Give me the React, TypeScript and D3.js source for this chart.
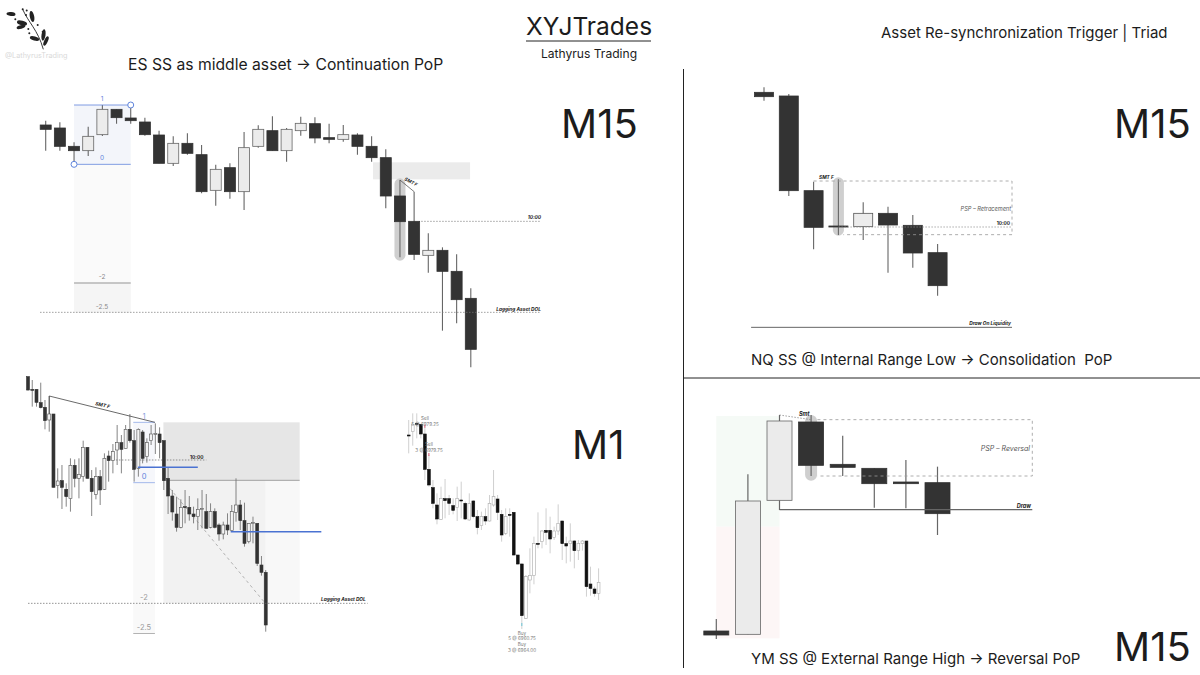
import React from "react";
import * as d3 from "d3";

type C = [number, number, number, number]; // open, high, low, close

const es15: C[] = [
  [865,878,788,852],[856,873,788,801],[801,813,747,788],[788,860,772,831],[836,925,832,912],[912,912,869,887],
  [886,925,869,878],[874,887,833,836],[835,848,750,750],[750,831,742,810],[810,840,776,780],[776,805,660,665],
  [669,746,623,732],[737,750,644,665],[665,844,610,797],[801,864,797,852],[848,891,788,788],[788,856,755,852],
  [848,890,833,870],[869,888,810,826],[827,869,810,822],[822,865,815,836],[835,840,776,801],[801,831,755,767],
  [767,792,615,652],[652,700,468,575],[576,665,460,477],[474,540,422,489],[489,498,248,426],[426,477,270,341],
  [345,375,138,192],
];
const es1: C[] = [
  [980,980,938,940],[942,970,890,940],[942,942,890,903],[902,962,885,887],[888,910,822,848],[850,922,815,868],
  [868,868,648,648],[653,705,615,667],[668,715,583,648],[642,660,590,620],[614,735,575,714],[714,732,648,675],
  [675,735,615,687],[680,788,665,768],[768,768,675,675],[675,700,562,635],[627,708,612,680],[680,700,595,640],
  [642,750,640,735],[742,758,665,728],[728,778,690,755],[760,835,715,782],[782,805,690,762],[765,835,765,822],
  [822,868,782,788],[788,820,665,702],[705,825,680,822],[814,820,720,735],[740,795,722,782],[788,835,775,808],
  [808,840,748,810],[808,828,735,782],[788,788,640,668],[675,708,568,622],[622,640,548,574],[568,620,515,528],
  [528,612,525,588],[590,640,540,587],[588,622,548,568],[568,590,540,560],[560,615,520,582],[582,640,525,584],
  [575,628,525,525],[528,600,525,575],[575,585,525,528],[535,540,488,508],[508,545,492,535],[535,570,505,520],
  [518,595,515,575],[573,675,545,595],[595,610,520,548],[548,602,470,480],[485,540,480,540],[540,560,480,542],
  [540,540,412,420],[415,442,383,393],[393,400,215,235],
];
const trade1: C[] = [
  [910,955,855,908],[920,975,878,942],[945,975,900,943],[942,942,900,913],[913,935,775,807],[807,850,755,760],
  [752,775,690,705],[700,735,642,658],[657,755,655,720],[719,778,660,713],[719,730,670,705],[698,720,672,684],
  [692,755,652,720],[715,770,660,713],[705,710,655,658],[655,735,653,705],[712,715,660,665],[665,685,612,632],
  [638,680,625,665],[665,690,640,652],[652,730,650,705],[700,805,695,725],[718,730,655,678],[672,685,590,610],
  [615,690,610,665],[672,690,605,670],[678,678,548,550],[550,550,520,523],[523,525,328,368],[360,490,358,485],
  [475,570,435,488],[488,605,462,585],[585,678,570,583],[590,625,570,622],[624,690,580,618],[624,665,555,598],
  [602,635,595,622],[622,702,610,645],[652,652,535,584],[584,605,525,577],[584,645,530,592],[592,595,510,563],
  [563,595,535,585],[585,595,563,592],[592,592,425,455],[463,515,428,450],[448,455,425,435],[435,510,415,468],
];
const nq15: C[] = [
  [963,978,938,950],[952,958,652,668],[668,695,492,558],[562,702,535,559],
  [560,633,520,600],[600,620,422,565],[564,595,437,481],[482,508,353,383],
];
const ym15: C[] = [
  [322,358,298,310],[312,792,312,712],[714,970,685,952],[949,970,787,819],
  [822,908,787,813],[810,810,692,764],[769,835,690,764],[767,815,610,674],
];

const titleMain = "XYJTrades";
const titleSub = "Lathyrus Trading";
const titleRight = "Asset Re-synchronization Trigger | Triad";
const captionES = "ES SS as middle asset → Continuation PoP";
const captionNQ = "NQ SS @ Internal Range Low → Consolidation  PoP";
const captionYM = "YM SS @ External Range High → Reversal PoP";
const sellNotes = ["Sell", "5 @ 6979.25", "Sell", "3 @ 6979.75"];
const buyNotes = ["Buy", "5 @ 6960.75", "Buy", "3 @ 6964.00"];

const FONT = "Inter, 'Noto Sans', sans-serif";

// every panel maps a candle index and a price onto the page
const panel = (x0: number, step: number, top: number) => ({
  x: d3.scaleLinear().domain([0, 1]).range([x0, x0 + step]),
  y: d3.scaleLinear().domain([1000, 0]).range([top, top + 1000 / 3]),
});
const pES = panel(45.7, 14.17, 80);
const pM1 = panel(28, 4.245, 370);
const pTR = panel(408.7, 4.04, 405);
const pNQ = panel(764, 24.8, 80);
const pYM = panel(716.3, 31.6, 405);

type P = ReturnType<typeof panel>;
type Style = { bw: number; dark: string; light: string; lightStroke: string; wick: string; wickW: number; bs?: number };

function Candles({ data, p, s }: { data: C[]; p: P; s: Style }) {
  return (
    <g>
      {data.map(([o, h, l, c], i) => {
        const x = p.x(i);
        const down = c < o;
        const top = p.y(Math.max(o, c));
        const bot = p.y(Math.min(o, c));
        return (
          <g key={i}>
            <line x1={x} x2={x} y1={p.y(h)} y2={p.y(l)} stroke={s.wick} strokeWidth={s.wickW} />
            <rect
              x={x - s.bw / 2}
              y={top}
              width={s.bw}
              height={Math.max(bot - top, 1)}
              fill={down ? s.dark : s.light}
              stroke={down ? s.dark : s.lightStroke}
              strokeWidth={s.bs ?? 0.8}
            />
          </g>
        );
      })}
    </g>
  );
}

const HLine = ({ p, a, b, v, ...rest }: any) => <line x1={p.x(a)} x2={p.x(b)} y1={p.y(v)} y2={p.y(v)} {...rest} />;
const Band = ({ p, a, b, v1, v2, fill }: any) => (
  <rect x={p.x(a)} width={p.x(b) - p.x(a)} y={p.y(v1)} height={p.y(v2) - p.y(v1)} fill={fill} />
);
const Pill = ({ p, i, v1, v2, w }: any) => (
  <rect x={p.x(i) - w / 2} width={w} y={p.y(v1)} height={p.y(v2) - p.y(v1)} rx={w / 2} fill="#cfcfcf" />
);
const T = ({ x, y, size, children, anchor, color, weight, italic, rot }: any) => (
  <text
    x={x}
    y={y}
    fontSize={size}
    textAnchor={anchor ?? "start"}
    fill={color ?? "#1c1c1c"}
    fontWeight={weight ?? 400}
    fontStyle={italic ? "italic" : "normal"}
    fontFamily={FONT}
    style={{ whiteSpace: "pre" }}
    transform={rot ? `rotate(${rot} ${x} ${y})` : undefined}
  >
    {children}
  </text>
);

const BLUE = "#5f84dc";
const fibES = { hi: 925, lo: 747 };
const fibM1 = { hi: 843, lo: 662 };
const lvl = (f: { hi: number; lo: number }, k: number) => f.lo + (f.hi - f.lo) * k;

const leaves = [
  [11, 14, 4.5, 2, 5], [32, 16.5, 2.2, 5.5, -12], [22, 23, 5.2, 2.2, 15], [21, 27, 4.5, 1.8, -15],
  [34.5, 38.5, 4.8, 2, 15], [43.5, 35, 2, 5.8, 8], [46, 41, 1.8, 5, 25],
];
const buds = [[22.7, 9.3], [26.7, 10.5], [26, 15], [15.3, 19.3], [28.3, 29], [29.3, 33.3], [37.7, 25], [42.7, 31.7]];

export default function App() {
  const esStyle: Style = { bw: 11, dark: "#333333", light: "#ececec", lightStroke: "#666", wick: "#666", wickW: 1.1 };
  const m1Style: Style = { bw: 3, dark: "#333333", light: "#f4f4f4", lightStroke: "#555", wick: "#777", wickW: 0.9, bs: 0.6 };
  const trStyle: Style = { bw: 2.8, dark: "#111111", light: "#ffffff", lightStroke: "#aaa", wick: "#bcbcbc", wickW: 0.7, bs: 0.6 };
  const nqStyle: Style = { bw: 19, dark: "#333333", light: "#ececec", lightStroke: "#555", wick: "#666", wickW: 1.1 };
  const ymStyle: Style = { bw: 25, dark: "#333333", light: "#ebebeb", lightStroke: "#666", wick: "#666", wickW: 1.2 };
  return (
    <svg width={1200} height={675} style={{ position: "absolute", left: 0, top: 0, background: "#fff" }}>
      {/* header */}
      <g>
        <path d="M22.7 9.3 C 28 22, 38 30, 43.3 49.3" fill="none" stroke="#222" strokeWidth={0.9} />
        {leaves.map(([cx, cy, rx, ry, r], i) => (
          <ellipse key={i} cx={cx} cy={cy} rx={rx} ry={ry} transform={`rotate(${r} ${cx} ${cy})`} fill="#222" />
        ))}
        {buds.map(([cx, cy], i) => <circle key={i} cx={cx} cy={cy} r={1} fill="#222" />)}
        <T x={5} y={58} size={7.3} color="#d9d9d9">@LathyrusTrading</T>
      </g>
      <T x={589} y={34.5} size={24.5} anchor="middle">{titleMain}</T>
      <line x1={526} x2={651} y1={41} y2={41} stroke="#222" strokeWidth={1} />
      <T x={589} y={58} size={12.1} anchor="middle">{titleSub}</T>
      <T x={881} y={38} size={15}>{titleRight}</T>
      <T x={128} y={70} size={15.7}>{captionES}</T>
      <T x={751} y={365} size={15}>{captionNQ}</T>
      <T x={751} y={664} size={15}>{captionYM}</T>
      <T x={561} y={138} size={40}>M15</T>
      <T x={1114} y={138} size={40}>M15</T>
      <T x={572} y={459} size={40}>M1</T>
      <T x={1114} y={661} size={40}>M15</T>
      <line x1={683.5} x2={683.5} y1={69} y2={668} stroke="#222" strokeWidth={1} />
      <line x1={684} x2={1200} y1={378} y2={378} stroke="#222" strokeWidth={1} />

      {/* ES M15 */}
      <Band p={pES} a={2} b={6} v1={lvl(fibES, 0)} v2={lvl(fibES, -2.5)} fill="#fafafa" />
      <Band p={pES} a={2} b={6} v1={lvl(fibES, 1)} v2={lvl(fibES, 0)} fill="#f3f5fa" />
      <Band p={pES} a={2} b={6} v1={lvl(fibES, -2)} v2={lvl(fibES, -2.5)} fill="#f5f5f5" />
      <Band p={pES} a={23.1} b={29.95} v1={753} v2={702} fill="#ebebeb" />
      <Pill p={pES} i={25} v1={705} v2={458} w={11} />
      <Candles data={es15} p={pES} s={esStyle} />
      <HLine p={pES} a={2} b={6} v={lvl(fibES, 1)} stroke={BLUE} strokeWidth={0.8} />
      <HLine p={pES} a={2} b={6} v={lvl(fibES, 0)} stroke={BLUE} strokeWidth={0.8} />
      <circle cx={pES.x(6)} cy={pES.y(925)} r={3} fill="#fff" stroke={BLUE} />
      <circle cx={pES.x(2)} cy={pES.y(747)} r={3} fill="#fff" stroke={BLUE} />
      <T x={102} y={101} size={6.5} anchor="middle" color={BLUE}>1</T>
      <T x={102} y={160} size={6.5} anchor="middle" color={BLUE}>0</T>
      <T x={102} y={279} size={6.5} anchor="middle" color="#888">-2</T>
      <T x={102} y={309} size={6.5} anchor="middle" color="#888">-2.5</T>
      <HLine p={pES} a={2} b={6} v={lvl(fibES, -2)} stroke="#b5b5b5" strokeWidth={1.4} />
      <line x1={pES.x(25)} y1={pES.y(700)} x2={pES.x(26)} y2={pES.y(665)} stroke="#444" strokeWidth={0.7} />
      <T x={404} y={180} size={4.6} weight={700} italic rot={28}>SMT F</T>
      <HLine p={pES} a={26.5} b={34.95} v={576} stroke="#777" strokeWidth={0.7} strokeDasharray="1.5 1.5" />
      <T x={541} y={219} size={4.8} anchor="end" weight={700} italic>10:00</T>
      <HLine p={pES} a={-0.4} b={34.95} v={303} stroke="#777" strokeWidth={0.7} strokeDasharray="1.5 1.5" />
      <T x={541} y={311} size={4.8} anchor="end" weight={700} italic>Lagging Asset DOL</T>

      {/* ES M1 */}
      <Band p={pM1} a={24.8} b={29.9} v1={lvl(fibM1, 0)} v2={lvl(fibM1, -2.5)} fill="#f9f9f9" />
      <Band p={pM1} a={24.8} b={29.9} v1={lvl(fibM1, 1)} v2={lvl(fibM1, 0)} fill="#f6f7fb" />
      <Band p={pM1} a={31.9} b={64} v1={843} v2={669} fill="#e6e6e6" />
      <Band p={pM1} a={31.9} b={56} v1={669} v2={300} fill="#f2f2f2" />
      <Band p={pM1} a={56} b={64} v1={669} v2={300} fill="#f8f8f8" />
      <HLine p={pM1} a={31.9} b={64} v={669} stroke="#999" strokeWidth={0.9} />
      <line x1={pM1.x(33.4)} y1={pM1.y(645)} x2={pM1.x(55.9)} y2={pM1.y(300)} stroke="#aaa" strokeWidth={0.9} strokeDasharray="3 3" />
      <HLine p={pM1} a={20} b={42} v={730} stroke="#666" strokeWidth={0.7} strokeDasharray="1.5 1.5" />
      <Candles data={es1} p={pM1} s={m1Style} />
      <HLine p={pM1} a={24.8} b={29.9} v={lvl(fibM1, 1)} stroke="#a3b8ea" strokeWidth={1} />
      <HLine p={pM1} a={24.8} b={29.9} v={lvl(fibM1, 0)} stroke="#a3b8ea" strokeWidth={1} />
      <HLine p={pM1} a={25.9} b={40} v={708} stroke="#4a72d2" strokeWidth={1.5} />
      <HLine p={pM1} a={47.75} b={69.1} v={515} stroke="#4a72d2" strokeWidth={1.5} />
      <polyline
        points={`${pM1.x(5)},${pM1.y(868)} ${pM1.x(5)},${pM1.y(922)} ${pM1.x(29.9)},${pM1.y(843)}`}
        fill="none" stroke="#444" strokeWidth={0.8}
      />
      <T x={95} y={405} size={4.8} weight={700} italic rot={13}>SMT F</T>
      <T x={144} y={419} size={7.5} anchor="middle" color="#8aa0dc">1</T>
      <T x={144} y={479} size={7.5} anchor="middle" color={BLUE}>0</T>
      <T x={144} y={600} size={7.5} anchor="middle" color="#999">-2</T>
      <T x={144} y={630} size={7.5} anchor="middle" color="#999">-2.5</T>
      <HLine p={pM1} a={24.8} b={29.9} v={lvl(fibM1, -2.5)} stroke="#aaa" strokeWidth={0.9} />
      <T x={190} y={459} size={4.8} weight={700}>10:00</T>
      <HLine p={pM1} a={0} b={80} v={300} stroke="#666" strokeWidth={0.7} strokeDasharray="1.5 1.5" />
      <T x={321} y={601} size={4.8} weight={700} italic>Lagging Asset DOL</T>

      {/* Trade M1 */}
      <Candles data={trade1} p={pTR} s={trStyle} />
      <rect x={pTR.x(4) - 0.5} y={pTR.y(935) - 2} width={1} height={3} fill="#d8536e" />
      <rect x={pTR.x(5) - 0.5} y={pTR.y(850) - 2} width={1} height={3} fill="#d8536e" />
      <rect x={pTR.x(28) - 0.5} y={pTR.y(340) - 2} width={1} height={3} fill="#6cc6d8" />
      {sellNotes.map((n, i) => (
        <T key={i} x={i < 2 ? 425 : 429} y={[419.5, 425.5, 445.5, 451.5][i]} size={4.6} anchor="middle" color="#777">{n}</T>
      ))}
      {buyNotes.map((n, i) => (
        <T key={i} x={522} y={[635, 640, 646, 651.5][i]} size={4.6} anchor="middle" color="#777">{n}</T>
      ))}

      {/* NQ M15 */}
      <Pill p={pNQ} i={3} v1={708} v2={533} w={11} />
      <Candles data={nq15} p={pNQ} s={nqStyle} />
      <path
        d={`M${pNQ.x(2)} ${pNQ.y(697)} H${pNQ.x(10)} V${pNQ.y(536)} H${pNQ.x(3.2)}`}
        fill="none" stroke="#999" strokeWidth={0.8} strokeDasharray="3 3"
      />
      <HLine p={pNQ} a={3} b={10} v={559} stroke="#888" strokeWidth={0.7} strokeDasharray="1.5 1.5" />
      <T x={819} y={179} size={4.8} weight={700} italic>SMT F</T>
      <T x={1011} y={211} size={5.6} anchor="end" italic color="#555">PSP – Retracement</T>
      <T x={1010} y={225} size={4.8} anchor="end" weight={700}>10:00</T>
      <HLine p={pNQ} a={-0.52} b={10} v={258} stroke="#666" strokeWidth={1} />
      <T x={1011} y={325} size={4.8} anchor="end" weight={700} italic>Draw On Liquidity</T>

      {/* YM M15 */}
      <Band p={pYM} a={0} b={2} v1={967} v2={635} fill="#f5faf6" />
      <Band p={pYM} a={0} b={2} v1={635} v2={300} fill="#fdf6f6" />
      <Pill p={pYM} i={3} v1={970} v2={773} w={12} />
      <Candles data={ym15} p={pYM} s={ymStyle} />
      <line x1={pYM.x(2)} y1={pYM.y(970)} x2={pYM.x(3)} y2={pYM.y(956)} stroke="#777" strokeWidth={0.7} strokeDasharray="1.5 1.5" />
      <path
        d={`M${pYM.x(3.2)} ${pYM.y(956)} H${pYM.x(10)} V${pYM.y(787)} H${pYM.x(3.2)}`}
        fill="none" stroke="#999" strokeWidth={0.8} strokeDasharray="3 3"
      />
      <T x={1030} y={451} size={7} anchor="end" italic color="#555">PSP – Reversal</T>
      <HLine p={pYM} a={2} b={10} v={686} stroke="#666" strokeWidth={1.1} />
      <T x={1031} y={508} size={5.5} anchor="end" weight={700} italic>Draw</T>
      <T x={799} y={416} size={5.5} weight={700} italic>Smt</T>
    </svg>
  );
}
